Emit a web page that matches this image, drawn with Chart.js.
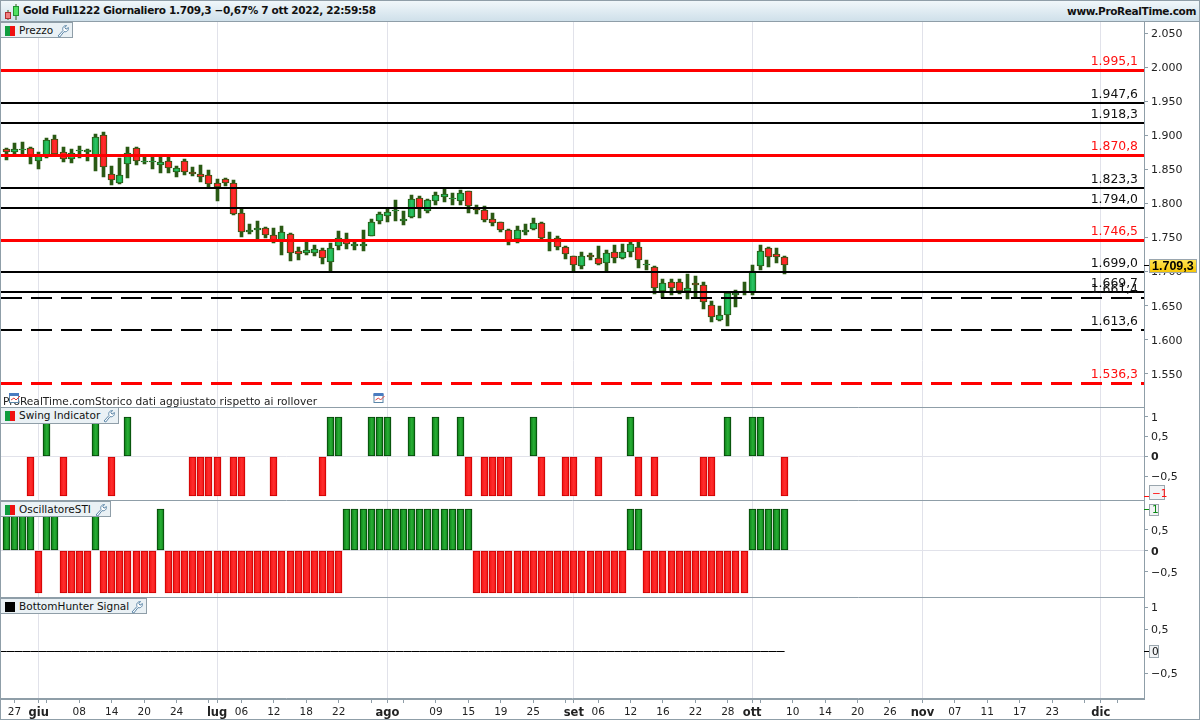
<!DOCTYPE html>
<html lang="it">
<head>
<meta charset="utf-8">
<title>Gold Full1222</title>
<script src="https://cdn.jsdelivr.net/npm/chart.js@4/dist/chart.umd.js"></script>
<style>
  html, body { margin: 0; padding: 0; background: #fff; overflow: hidden; }
  body { font-family: "DejaVu Sans", sans-serif; color: #111; }
  #page { position: relative; width: 1200px; height: 720px; }
  #myChart { position: absolute; left: 0; top: 0; }
  #frame { position: absolute; left: 0; top: 0; width: 1198px; height: 718px; border: 1px solid #8f9ea8; pointer-events: none; }
  #header { position: absolute; left: 0; top: 0; width: 1200px; height: 22px; box-sizing: border-box;
    background: linear-gradient(#f2f8fb, #cfe0ea); border-bottom: 1px solid #8f9ea8; }
  #title { position: absolute; left: 23px; top: 4px; font-size: 10.5px; font-weight: bold; white-space: nowrap; letter-spacing: -0.32px; }
  #site { position: absolute; right: 4px; top: 5px; font-size: 10.5px; font-weight: bold; white-space: nowrap; letter-spacing: -0.35px; }
  .tag { position: absolute; left: 0; height: 16px; box-sizing: border-box; background: #eaf1f5;
    border: 1px solid #8f9ea8; border-left: 0; font-size: 10.5px; line-height: 15px; padding-left: 19px; white-space: nowrap; }
  .tag i { position: absolute; left: 5px; top: 3px; width: 10px; height: 10px; background: linear-gradient(90deg, #0f9d3f 50%, #f01010 50%); }
  .tag i.black { background: #000; }
  .tag svg { position: absolute; right: 2px; top: 1px; }
  #note { position: absolute; left: 3px; top: 395px; font-size: 10.6px; white-space: nowrap; letter-spacing: 0.03px; color: #222; }
  .cal { position: absolute; }
</style>
</head>
<body>
<div id="page">
  <canvas id="myChart" width="1200" height="720"></canvas>
  <div id="header">
    <svg style="position:absolute;left:2px;top:3px" width="18" height="18" viewBox="0 0 18 18">
      <path d="M6 7v10M14 1v16" stroke="#2a5a14" stroke-width="1"/>
      <rect x="3.5" y="9.5" width="5" height="6" fill="#f08080" stroke="#b03030"/>
      <rect x="11.5" y="3.5" width="5" height="9" fill="#50e060" stroke="#209030"/>
    </svg>
    <div id="title">Gold Full1222 Giornaliero 1.709,3 −0,67% 7 ott 2022, 22:59:58</div>
    <div id="site">www.ProRealTime.com</div>
  </div>
  <div class="tag" style="top:22px;width:73px"><i></i>Prezzo<svg width="14" height="14" viewBox="0 0 14 14"><use href="#wrench"/></svg></div>
  <div class="tag" style="top:407px;width:119px;height:17px"><i></i>Swing Indicator<svg width="14" height="14" viewBox="0 0 14 14"><use href="#wrench"/></svg></div>
  <div class="tag" style="top:501px;width:111px"><i></i>OscillatoreSTI<svg width="14" height="14" viewBox="0 0 14 14"><use href="#wrench"/></svg></div>
  <div class="tag" style="top:598px;width:147px"><i class="black"></i>BottomHunter Signal<svg width="14" height="14" viewBox="0 0 14 14"><use href="#wrench"/></svg></div>
  <div id="note">ProRealTime.comStorico dati aggiustato rispetto ai rollover</div>
  <svg class="cal" style="left:8px;top:392px" width="13" height="13" viewBox="0 0 13 13"><use href="#calendar"/></svg>
  <svg class="cal" style="left:372px;top:392px" width="14" height="13" viewBox="0 0 13 13"><use href="#calendar"/></svg>
  <div id="frame"></div>
  <svg width="0" height="0" style="position:absolute">
    <defs>
      <g id="wrench"><path d="M2 12 L7 6.5 C6 4 7.5 1.5 10.5 1.5 L8.8 3.6 L10 5.2 L12.4 3.6 C12.8 6.5 10.5 8.4 8 7.6 L3.8 13 Z" fill="#fff" stroke="#5b86a8" stroke-width="1"/></g>
      <g id="calendar"><rect x="1.5" y="2.5" width="9" height="8" fill="#fff" stroke="#5b86a8"/><rect x="1" y="1" width="10" height="3" fill="#4a7cc0"/><path d="M3 8 L6 6 L8 8 L12 4" stroke="#e04040" fill="none"/></g>
    </defs>
  </svg>
</div>

<script>
// Chart data
const opens = [1879.5,1876.0,1878.0,1880.9,1861.9,1870.7,1894.1,1875.1,1864.8,1876.5,1875.1,1870.7,1900.0,1842.8,1830.6,1857.5,1880.9,1860.4,1860.4,1856.0,1861.9,1845.7,1861.9,1845.7,1842.8,1841.3,1829.6,1835.5,1829.6,1785.6,1758.7,1760.6,1763.6,1753.3,1746.5,1754.8,1729.8,1727.8,1727.8,1731.2,1714.6,1738.1,1747.4,1738.1,1737.1,1752.8,1774.8,1782.1,1788.5,1774.8,1780.6,1807.5,1789.4,1804.1,1810.0,1806.1,1804.1,1817.8,1792.9,1789.9,1776.7,1772.3,1760.6,1748.4,1758.6,1763.0,1770.9,1746.4,1748.9,1735.6,1722.4,1707.7,1723.9,1719.5,1712.1,1728.3,1719.5,1728.3,1735.6,1709.2,1706.3,1672.0,1684.3,1684.3,1672.0,1682.8,1679.9,1650.5,1628.5,1635.8,1666.2,1670.0,1670.0,1707.7,1734.1,1725.3,1720.9];
const closes = [1876.0,1879.5,1879.5,1870.7,1870.7,1892.7,1872.1,1864.8,1873.6,1878.0,1878.0,1897.1,1853.0,1835.0,1841.3,1873.6,1861.9,1862.8,1861.9,1860.4,1851.6,1851.6,1845.7,1842.8,1838.4,1828.1,1823.7,1829.6,1785.1,1757.7,1761.1,1763.6,1753.3,1745.5,1757.7,1726.9,1725.9,1731.2,1732.7,1720.5,1734.2,1748.9,1740.0,1741.0,1740.0,1772.3,1784.0,1787.0,1790.4,1776.7,1806.1,1792.9,1804.6,1811.9,1813.4,1807.5,1814.9,1796.8,1789.9,1776.2,1770.9,1761.6,1744.5,1760.6,1761.1,1770.9,1748.9,1747.4,1735.6,1725.3,1709.2,1722.4,1721.4,1711.6,1726.8,1719.5,1728.3,1740.0,1716.5,1710.7,1676.4,1682.8,1676.4,1671.0,1675.5,1679.9,1654.9,1632.9,1635.8,1668.1,1668.6,1671.5,1701.4,1729.7,1720.9,1720.9,1709.3];
const highs = [1880.9,1888.8,1890.2,1882.4,1875.1,1895.6,1900.0,1882.4,1879.5,1883.9,1879.5,1901.5,1904.4,1854.5,1866.8,1882.4,1882.4,1867.7,1867.7,1868.7,1867.7,1854.5,1864.8,1853.0,1856.0,1848.7,1835.5,1836.9,1834.0,1791.9,1769.4,1773.8,1765.0,1763.6,1766.5,1756.2,1735.7,1743.5,1739.1,1734.2,1741.5,1759.6,1756.7,1744.9,1761.1,1776.7,1787.0,1792.9,1804.6,1788.5,1811.9,1810.5,1806.1,1816.3,1821.2,1815.4,1819.3,1817.8,1797.3,1795.8,1786.0,1772.3,1762.1,1766.9,1769.9,1778.7,1772.8,1758.1,1751.8,1737.6,1722.9,1728.3,1726.8,1737.1,1731.2,1738.5,1740.5,1745.4,1743.4,1716.5,1707.7,1688.7,1688.7,1688.7,1696.0,1693.6,1684.3,1656.4,1649.0,1669.6,1672.5,1684.3,1709.2,1738.5,1735.6,1734.1,1722.4];
const lows = [1863.8,1872.1,1872.1,1858.0,1850.6,1867.2,1872.1,1860.9,1859.4,1866.8,1862.4,1847.7,1838.9,1827.1,1829.1,1837.4,1856.5,1858.0,1850.6,1844.8,1844.8,1838.9,1841.8,1840.3,1831.5,1824.2,1803.7,1825.7,1783.1,1750.9,1755.3,1747.4,1749.4,1742.1,1724.5,1715.7,1717.1,1723.9,1722.9,1711.2,1700.9,1731.7,1733.2,1731.7,1730.3,1752.3,1769.9,1772.8,1774.3,1768.4,1778.7,1778.7,1786.0,1797.8,1802.2,1797.8,1797.8,1786.0,1784.6,1773.3,1766.9,1758.1,1739.1,1742.0,1753.7,1761.1,1747.9,1730.3,1731.7,1718.5,1699.9,1704.3,1717.0,1709.7,1700.4,1712.1,1718.5,1721.4,1705.3,1702.4,1667.1,1660.8,1665.7,1667.1,1659.8,1662.2,1645.1,1626.1,1627.5,1620.2,1648.1,1665.2,1665.7,1702.4,1706.7,1712.6,1696.5];

const swingValues = [
  0,0,0,-1,0,1,0,-1,0,0,
  0,1,0,-1,0,1,0,0,0,0,
  0,0,0,-1,-1,-1,-1,0,-1,-1,
  0,0,0,-1,0,0,0,0,0,-1,
  1,1,0,0,0,1,1,1,0,0,
  1,0,0,1,0,0,1,-1,0,-1,
  -1,-1,-1,0,0,1,-1,0,0,-1,
  -1,0,0,-1,0,0,0,1,-1,0,
  -1,0,0,0,0,0,-1,-1,0,1,
  0,0,1,1,0,0,-1
];
const stiValues = [
  1,1,1,1,-1,1,1,-1,-1,-1,
  -1,1,-1,-1,-1,-1,-1,-1,-1,1,
  -1,-1,-1,-1,-1,-1,-1,-1,-1,-1,
  -1,-1,-1,-1,-1,-1,-1,-1,-1,-1,
  -1,-1,1,1,1,1,1,1,1,1,
  1,1,1,1,1,1,1,1,-1,-1,
  -1,-1,-1,-1,-1,-1,-1,-1,-1,-1,
  -1,-1,-1,-1,-1,-1,-1,1,1,-1,
  -1,-1,-1,-1,-1,-1,-1,-1,-1,-1,
  -1,-1,1,1,1,1,1
];
const hunterValues = opens.map(() => 0);

const redLevels = [1995.1, 1870.8, 1746.5];
const blackLevels = [1947.6, 1918.3, 1823.3, 1794.0, 1699.0, 1669.7];
const dashedLevels = [1661.4, 1613.6];
const dashedRedLevels = [1536.3];
const lastPrice = 1709.3;

const priceTicks = [2050, 2000, 1950, 1900, 1850, 1800, 1750, 1700, 1650, 1600, 1550];
const swingTicks = [1, 0.5, 0, -0.5];
const stiTicks = [0.5, 0, -0.5];
const hunterTicks = [1, 0.5, -0.5];

const dayTicks = [1,4,5,9,13,17,21,25,26,29,33,37,41,45,47,49,53,57,61,65,69,70,73,77,81,85,89,92,93,97,101,105,109,113,117,121,125,129,133,135,137];
const dayLabels = ['27','giu','','08','14','20','24','','lug','06','12','18','22','','ago','','09','15','19','25','','set','06','12','16','22','28','ott','','10','14','20','26','nov','07','11','17','23','','dic',''];
const months = ['giu','lug','ago','set','ott','nov','dic'];

const X_MIN = -0.654;
const X_MAX = 140.33;
const axisColor = '#8f9ea8';
const gridColor = '#e1e2ea';
const wickColor = '#2a5a14';
const fontName = '"DejaVu Sans", sans-serif';

function euro(v, dec) {
  const s = Math.abs(v).toFixed(dec).replace('.', ',');
  return (v < 0 ? '−' : '') + s.replace(/^(\d)(\d{3})/, '$1.$2');
}

// shaded fill across one bar, like the original
function barFill(ctx, dark, light) {
  const x = ctx.parsed ? ctx.chart.scales.x.getPixelForValue(ctx.parsed.x) : NaN;
  if (!isFinite(x)) return dark;
  const px = Math.floor(x) + 0.5;
  const g = ctx.chart.ctx.createLinearGradient(px - 3.5, 0, px + 3.5, 0);
  g.addColorStop(0, dark);
  g.addColorStop(0.55, light);
  g.addColorStop(1, dark);
  return g;
}
const upFill = ctx => barFill(ctx, '#0c9a3c', '#2ec766');
const downFill = ctx => barFill(ctx, '#f51212', '#ff3030');

const candleX = opens.map((_, i) => i);
const wicks = candleX.map(i => ({ x: i, y: [lows[i], highs[i]] }));
const bodies = candleX.map(i => ({ x: i, y: [opens[i], closes[i]] }));

function signalDataset(values, axis) {
  return {
    type: 'bar',
    yAxisID: axis,
    data: values.map((v, i) => ({ x: i, y: v })),
    grouped: false,
    barThickness: 7,
    borderWidth: 1,
    borderSkipped: false,
    borderColor: ctx => (ctx.raw && ctx.raw.y > 0 ? '#054208' : '#c90000'),
    backgroundColor: ctx => (ctx.raw && ctx.raw.y > 0
      ? barFill(ctx, '#0a7a14', '#29b036')
      : barFill(ctx, '#f21010', '#ff2e2e')),
    order: 5
  };
}

function levelDataset(level, color, width, dash) {
  return {
    type: 'line',
    yAxisID: 'price',
    data: [{ x: X_MIN, y: level }, { x: X_MAX, y: level }],
    borderColor: color,
    borderWidth: width,
    borderDash: dash,
    pointRadius: 0,
    order: 1
  };
}

function tickFont(bold, size) {
  return { family: fontName, size: size || 11, weight: bold ? 'bold' : 'normal' };
}

function paneAxis(weight, min, max, ticks, showZero) {
  return {
    type: 'linear',
    position: 'right',
    stack: 'panes',
    stackWeight: weight,
    min: min,
    max: max,
    afterBuildTicks: scale => { scale.ticks = ticks.map(v => ({ value: v })); },
    afterFit: scale => { scale.width = 56; },
    border: { color: axisColor, display: true },
    grid: {
      tickLength: 4,
      tickColor: axisColor,
      drawOnChartArea: true,
      color: ctx => (showZero && ctx.tick && ctx.tick.value === 0 ? gridColor : 'transparent')
    },
    ticks: {
      padding: 3,
      color: '#222',
      autoSkip: false,
      font: ctx => tickFont(showZero && ctx.tick && ctx.tick.value === 0, 11),
      callback: v => (v === 0 ? '0' : (ticks === priceTicks ? euro(v, 0) : euro(v, Math.abs(v) === 1 ? 0 : 1)))
    }
  };
}

// labels on the price levels, pane dividers and the value boxes of the axis
const overlayPlugin = {
  id: 'overlay',
  beforeDraw(chart) {
    // axis numbers sit one pixel lower than Chart.js puts them
    ['price', 'swing', 'sti', 'hunter'].forEach(id => {
      chart.scales[id].getLabelItems().forEach(item => { item.options.translation[1] += 1; });
    });
  },
  beforeDatasetsDraw(chart) {
    // same pixel snapping as the platform: no blurred candles
    chart.data.datasets.forEach((ds, i) => {
      chart.getDatasetMeta(i).data.forEach(el => {
        if (ds.type === 'bar') {
          el.x = Math.floor(el.x) + 0.5;
          el.y = Math.round(el.y);
          el.base = Math.round(el.base);
        } else if (ds.yAxisID === 'price') {
          el.y = Math.round(el.y) + (ds.borderWidth % 2 ? 0.5 : 0);
        } else {
          el.y = Math.round(el.y) + 0.5;
        }
      });
    });
  },
  afterDraw(chart) {
    const c = chart.ctx;
    const price = chart.scales.price;
    const right = chart.chartArea.right;
    c.save();
    c.textAlign = 'right';
    c.textBaseline = 'alphabetic';
    c.font = '12.4px ' + fontName;
    const label = (level, color) => {
      c.fillStyle = color;
      c.fillText(euro(level, 1), right - 6, Math.round(price.getPixelForValue(level)) - 5);
    };
    redLevels.concat(dashedRedLevels).forEach(l => label(l, '#ff1010'));
    blackLevels.concat(dashedLevels).forEach(l => label(l, '#111'));

    // pane dividers
    c.strokeStyle = axisColor;
    c.lineWidth = 1;
    ['price', 'swing', 'sti', 'hunter'].forEach(id => {
      const y = Math.round(chart.scales[id].bottom) - 0.5;
      c.beginPath();
      c.moveTo(1, y);
      c.lineTo(right, y);
      c.stroke();
    });

    const box = (scale, value, top, h, w, text, color, fill, font, tick) => {
      const y = Math.round(scale.getPixelForValue(value)) + 0.5;
      c.strokeStyle = tick;
      c.beginPath();
      c.moveTo(right, y);
      c.lineTo(right + 5, y);
      c.stroke();
      c.fillStyle = fill;
      c.fillRect(1149, top, w, h);
      c.strokeStyle = '#9aa6ae';
      c.strokeRect(1149.5, top + 0.5, w - 1, h - 1);
      c.fillStyle = color;
      c.textAlign = 'left';
      c.font = font;
      c.fillText(text, 1152, top + h - 3.5);
    };
    const yellow = c.createLinearGradient(0, 259, 0, 273);
    yellow.addColorStop(0, '#ffe65a');
    yellow.addColorStop(1, '#f6c400');
    const small = '10.5px ' + fontName;
    box(price, lastPrice, 259, 14, 48, euro(lastPrice, 1), '#000', yellow, 'bold 12.5px "Liberation Sans", sans-serif', '#000');
    box(chart.scales.swing, -1, 485, 15, 16, '−1', '#ff1010', '#f1f3f5', small, '#ff1010');
    box(chart.scales.sti, 1, 504, 12, 10, '1', '#0a8a14', '#f1f3f5', small, '#0a8a14');
    box(chart.scales.hunter, 0, 645, 13, 10, '0', '#111', '#f1f3f5', small, '#000');
    c.restore();
  }
};

const ctx = document.getElementById('myChart');

new Chart(ctx, {
  type: 'bar',
  data: {
    datasets: [
      levelDataset(redLevels[0], '#ff0000', 3),
      levelDataset(redLevels[1], '#ff0000', 3),
      levelDataset(redLevels[2], '#ff0000', 3),
      ...blackLevels.map(l => levelDataset(l, '#000', 2)),
      ...dashedLevels.map(l => levelDataset(l, '#000', 2, [21, 9])),
      ...dashedRedLevels.map(l => levelDataset(l, '#ff0000', 3, [21, 9])),
      {
        type: 'bar', yAxisID: 'price', data: wicks, grouped: false,
        barThickness: 3, backgroundColor: wickColor, borderWidth: 0, order: 4
      },
      {
        type: 'bar', yAxisID: 'price', data: bodies, grouped: false,
        barThickness: 7, borderColor: wickColor, borderWidth: 1, borderSkipped: false,
        backgroundColor: c => (c.raw && c.raw.y[1] >= c.raw.y[0] ? upFill(c) : downFill(c)),
        order: 3
      },
      signalDataset(swingValues, 'swing'),
      signalDataset(stiValues, 'sti'),
      {
        type: 'line', yAxisID: 'hunter',
        data: [{ x: X_MIN, y: hunterValues[0] }].concat(hunterValues.map((v, i) => ({ x: i, y: v }))),
        borderColor: '#000', borderWidth: 1, pointRadius: 0, order: 2
      }
    ]
  },
  plugins: [overlayPlugin],
  options: {
    responsive: false,
    animation: false,
    events: [],
    layout: { padding: { left: 1, top: 22, right: 0, bottom: 0 } },
    scales: {
      x: {
        type: 'linear',
        min: X_MIN,
        max: X_MAX,
        offset: false,
        afterBuildTicks: scale => { scale.ticks = dayTicks.map(v => ({ value: v })); },
        afterFit: scale => { scale.height = 21; },
        border: { color: axisColor, display: true },
        grid: {
          offset: false,
          tickLength: 4,
          tickColor: axisColor,
          color: c => (c.tick && months.includes(dayLabels[dayTicks.indexOf(c.tick.value)]) ? gridColor : 'transparent')
        },
        ticks: {
          autoSkip: false,
          maxRotation: 0,
          minRotation: 0,
          padding: 3,
          color: '#222',
          font: c => tickFont(c.tick && months.includes(dayLabels[dayTicks.indexOf(c.tick.value)]), c.tick && months.includes(dayLabels[dayTicks.indexOf(c.tick.value)]) ? 11.5 : 10.5),
          callback: (v, i) => dayLabels[i]
        }
      },
      price: paneAxis(385.5, 1500.6, 2066.2, priceTicks, false),
      swing: paneAxis(93, -1.11, 1.23, swingTicks, true),
      sti: paneAxis(97, -1.107, 1.197, stiTicks, true),
      hunter: paneAxis(101.5, -1.08, 1.215, hunterTicks, true)
    },
    plugins: {
      legend: { display: false },
      title: { display: false },
      tooltip: { enabled: false }
    }
  }
});
</script>
</body>
</html>
